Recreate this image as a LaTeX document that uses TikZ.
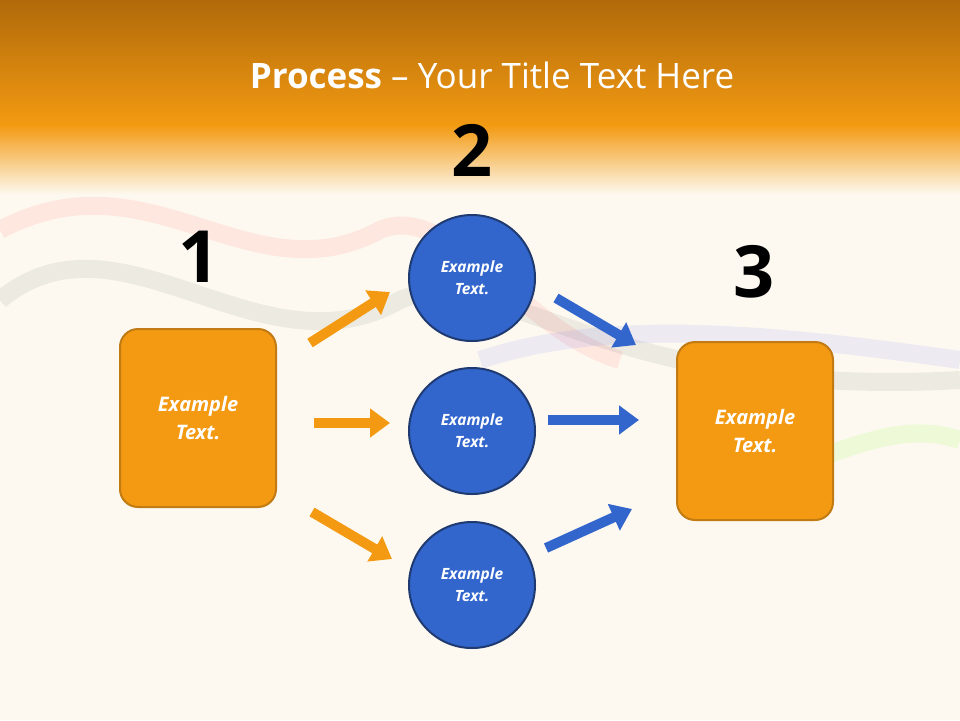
\documentclass[tikz,border=0pt]{standalone}
\usepackage{fontspec}
\setmainfont{Open Sans}
\usetikzlibrary{arrows.meta}
\definecolor{cream}{HTML}{FDF9F0}
\definecolor{orn}{HTML}{F39A12}
\definecolor{ornd}{HTML}{B06A0A}
\definecolor{orb}{HTML}{C27A12}
\definecolor{blu}{HTML}{3366CC}
\definecolor{blud}{HTML}{1F3A70}
\begin{document}
\begin{tikzpicture}[x=1pt,y=-1pt,
  boxs/.style={draw=orb,line width=2pt,fill=orn,rounded corners=18pt,minimum width=156pt,minimum height=178pt,text=white,font=\bfseries\itshape\fontsize{20}{28}\selectfont,align=center},
  circs/.style={circle,draw=blud,line width=2pt,fill=blu,minimum size=126pt,text=white,font=\bfseries\itshape\fontsize{15.5}{22}\selectfont,align=center},
  numst/.style={font=\bfseries\fontsize{72}{72}\selectfont},
  oarr/.style={draw=orn,line width=10pt,-{Triangle[length=20pt,width=28pt]}},
  barr/.style={draw=blu,line width=10pt,-{Triangle[length=20pt,width=28pt]}}]
\useasboundingbox (0,0) rectangle (960,720);
\fill[cream] (0,0) rectangle (960,720);
% faint smoke
\begin{scope}[opacity=0.10,line width=18pt]
\draw[red!70] (0,230) .. controls (150,150) and (250,300) .. (380,230) .. controls (450,200) and (520,330) .. (620,360);
\draw[black!60] (0,300) .. controls (120,200) and (260,380) .. (400,300) .. controls (500,260) and (600,400) .. (960,380);
\draw[blue!60] (480,360) .. controls (600,320) and (750,330) .. (960,360);
\draw[green!60!yellow] (780,470) .. controls (850,450) and (900,420) .. (960,440);
\end{scope}
\shade[top color=ornd,bottom color=orn] (0,0) rectangle (960,125);
\shade[top color=orn,bottom color=cream] (0,125) rectangle (960,195);
\node[text=white,font=\fontsize{35}{42}\selectfont] (title) at (492,75) {\textbf{Process} – Your Title Text Here};
\node[numst] (n2) at (472,150) {2};
\node[numst] (n1) at (199,257) {1};
\node[numst] (n3) at (754,272) {3};
\node[boxs] (L) at (198,418) {Example\\Text.};
\node[boxs] (R) at (755,431) {Example\\Text.};
\node[circs] (c1) at (472,278) {Example\\Text.};
\node[circs] (c2) at (472,431) {Example\\Text.};
\node[circs] (c3) at (472,585) {Example\\Text.};
\coordinate (a1) at (310,343); \coordinate (b1) at (390,292);
\coordinate (a2) at (314,423); \coordinate (b2) at (390,423);
\coordinate (a3) at (312,512); \coordinate (b3) at (392,559);
\coordinate (a4) at (556,298); \coordinate (b4) at (636,345);
\coordinate (a5) at (548,420); \coordinate (b5) at (639,420);
\coordinate (a6) at (546,548); \coordinate (b6) at (632,509);
\draw[oarr] (a1) -- (b1);
\draw[oarr] (a2) -- (b2);
\draw[oarr] (a3) -- (b3);
\draw[barr] (a4) -- (b4);
\draw[barr] (a5) -- (b5);
\draw[barr] (a6) -- (b6);
\end{tikzpicture}
\end{document}
